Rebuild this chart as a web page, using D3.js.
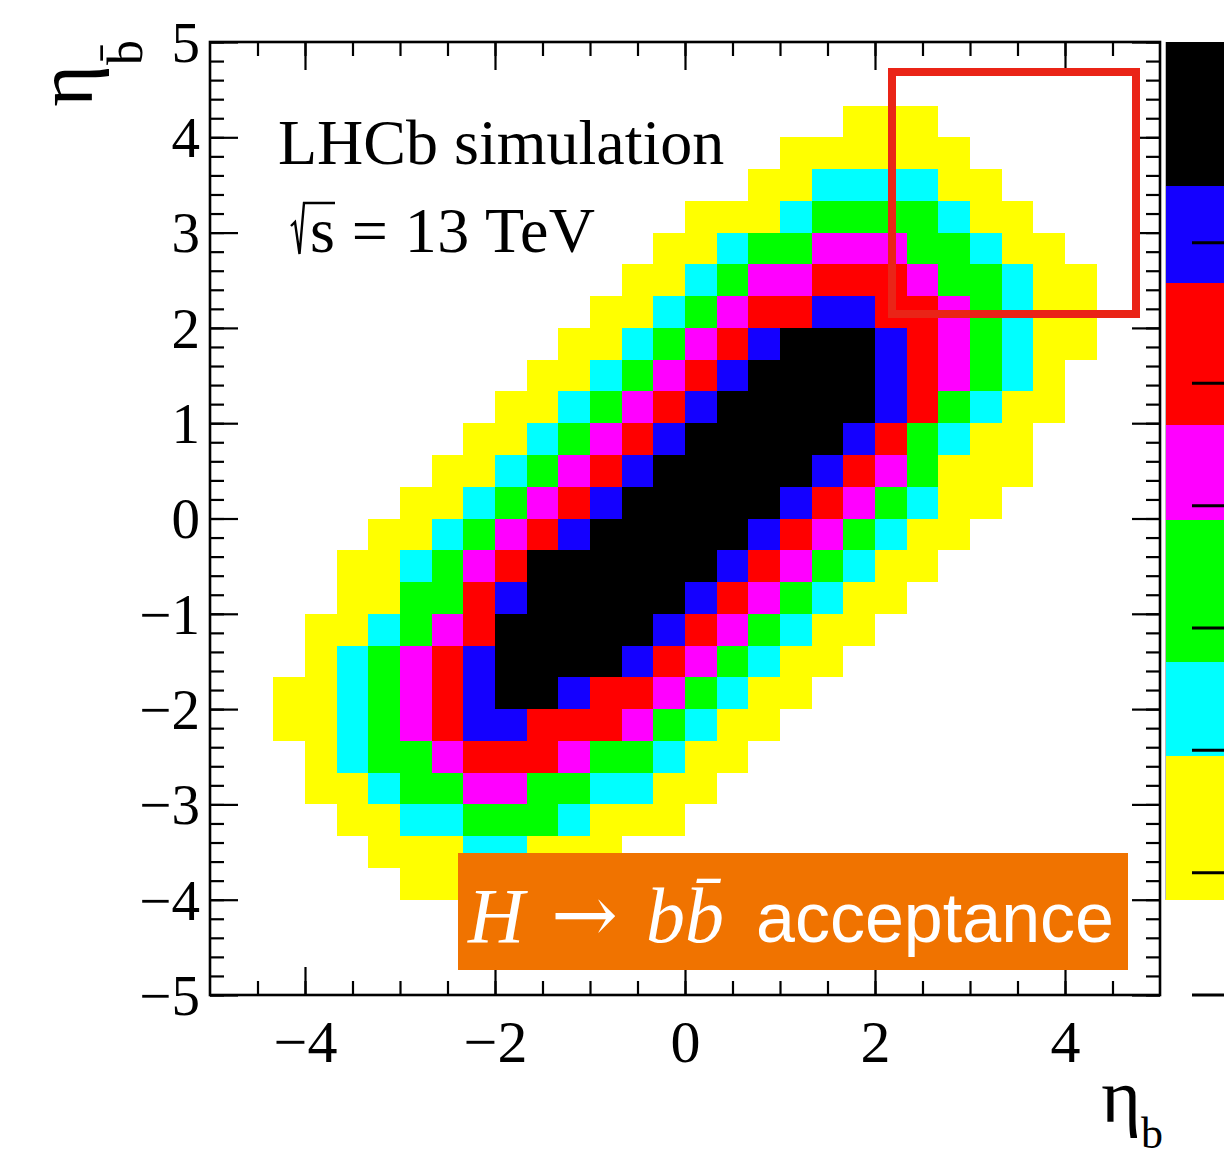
<!DOCTYPE html>
<html>
<head>
<meta charset="utf-8">
<script src="https://cdn.jsdelivr.net/npm/d3@7"></script>
<style>
  html, body { margin: 0; padding: 0; background: #ffffff; }
  svg { display: block; }
</style>
</head>
<body>
<svg id="chart" width="1224" height="1162"></svg>
<script>
// ---- data -------------------------------------------------------------
// Both axes: eta in [-5, 5], 30 bins each.
const etaDomain = [-5, 5];
const nBins = 30;

const xMajorTicks = [-4, -2, 0, 2, 4];
const yMajorTicks = [5, 4, 3, 2, 1, 0, -1, -2, -3, -4, -5];

// Contour level colours, level 1 (lowest) .. level 7 (highest).
const levelColors = ["#ffff00", "#00ffff", "#00ff00", "#ff00ff", "#ff0000", "#1400ff", "#000000"];

// Palette axis: boundaries of the seven contour bands and the tick positions.
const paletteEdges = [0.78, 1.95, 2.72, 3.88, 4.66, 5.82, 6.61, 7.79];
const paletteTicks = [0, 1, 2, 3, 4, 5, 6.15];

// Histogram content, one entry per eta_bbar bin from the top (eta_bbar = 5) down.
// rowFirstBin: index of the first filled eta_b bin; rowLevels: contour level of each filled bin.
const rowFirstBin = [null, null, 20, 18, 17, 15, 14, 13, 12, 11, 10, 9, 8, 7, 6,
                     5, 4, 4, 3, 3, 2, 2, 3, 3, 4, 5, 6, null, null, null];
const rowLevels = [
  "", "",
  "111",
  "111111",
  "11222211",
  "11123333211",
  "1123344433211",
  "112344555433211",
  "1123455665543211",
  "11234567776543211",
  "11234567777654321",
  "112345677777653211",
  "112345677777653211",
  "1123456777776543111",
  "1123456777776543211",
  "1123456777776543211",
  "1123457777776543211",
  "113356777776543211",
  "112345777776543211",
  "12345677776543211",
  "11234567765543211",
  "1123456655543211",
  "12334555433211",
  "1123344332211",
  "11223332111",
  "11122111",
  "1111",
  "", "", ""
];

// ---- layout -----------------------------------------------------------
const frame = { left: 210, right: 1160, top: 42, bottom: 995 };
const svg = d3.select("#chart");

const x = d3.scaleLinear().domain(etaDomain).range([frame.left, frame.right]);
const y = d3.scaleLinear().domain(etaDomain).range([frame.bottom, frame.top]);
const binW = (etaDomain[1] - etaDomain[0]) / nBins;

// pixel edges of bin k (0 = left / top), shared by neighbouring cells so no seams appear
const xEdge = k => Math.round(x(etaDomain[0] + k * binW));
const yEdge = k => Math.round(y(etaDomain[1] - k * binW));

// flatten into cells
const cells = [];
rowLevels.forEach((s, r) => {
  if (!s) return;
  s.split("").forEach((ch, k) => {
    const lvl = +ch;
    if (lvl <= 0) return;
    cells.push({ col: rowFirstBin[r] + k, row: r, level: lvl });
  });
});

svg.append("g").attr("class", "cells")
  .attr("shape-rendering", "crispEdges")
  .selectAll("rect").data(cells).join("rect")
  .attr("x", d => xEdge(d.col))
  .attr("y", d => yEdge(d.row))
  .attr("width", d => xEdge(d.col + 1) - xEdge(d.col))
  .attr("height", d => yEdge(d.row + 1) - yEdge(d.row))
  .attr("fill", d => levelColors[d.level - 1]);

// ---- axes (ticks inside the frame on all four sides) -------------------
const majorLen = 28, minorLen = 14;
const xMinor = d3.range(-45, 46, 5).map(v => v / 10);
const yMinor = d3.range(-25, 26, 1).map(v => v / 5);
const fmt = d => d < 0 ? "\u2212" + Math.abs(d) : String(d);

function styleAxis(g) {
  g.select(".domain").remove();
  g.selectAll(".tick line").attr("stroke", "#000").attr("stroke-width", 2.2);
}

// bottom
svg.append("g").attr("transform", `translate(0,${frame.bottom})`)
  .call(d3.axisBottom(x).tickValues(xMinor).tickSize(-minorLen).tickFormat(""))
  .call(styleAxis);
const xAxisG = svg.append("g").attr("transform", `translate(0,${frame.bottom})`)
  .call(d3.axisBottom(x).tickValues(xMajorTicks).tickSize(-majorLen).tickFormat(fmt))
  .call(styleAxis);
xAxisG.selectAll(".tick text")
  .attr("font-family", "Liberation Serif").attr("font-size", 60).attr("fill", "#000")
  .attr("dy", "0.72em").attr("y", 24);

// top
svg.append("g").attr("transform", `translate(0,${frame.top})`)
  .call(d3.axisTop(x).tickValues(xMinor).tickSize(-minorLen).tickFormat(""))
  .call(styleAxis);
svg.append("g").attr("transform", `translate(0,${frame.top})`)
  .call(d3.axisTop(x).tickValues(xMajorTicks).tickSize(-majorLen).tickFormat(""))
  .call(styleAxis);

// left
svg.append("g").attr("transform", `translate(${frame.left},0)`)
  .call(d3.axisLeft(y).tickValues(yMinor).tickSize(-minorLen).tickFormat(""))
  .call(styleAxis);
const yAxisG = svg.append("g").attr("transform", `translate(${frame.left},0)`)
  .call(d3.axisLeft(y).tickValues(yMajorTicks).tickSize(-majorLen).tickFormat(fmt))
  .call(styleAxis);
yAxisG.selectAll(".tick text")
  .attr("font-family", "Liberation Serif").attr("font-size", 57).attr("fill", "#000")
  .attr("x", -10).attr("dy", "0.34em");

// right
svg.append("g").attr("transform", `translate(${frame.right},0)`)
  .call(d3.axisRight(y).tickValues(yMinor).tickSize(-minorLen).tickFormat(""))
  .call(styleAxis);
svg.append("g").attr("transform", `translate(${frame.right},0)`)
  .call(d3.axisRight(y).tickValues(yMajorTicks).tickSize(-majorLen).tickFormat(""))
  .call(styleAxis);

// frame
svg.append("rect")
  .attr("x", frame.left).attr("y", frame.top)
  .attr("width", frame.right - frame.left).attr("height", frame.bottom - frame.top)
  .attr("fill", "none").attr("stroke", "#000").attr("stroke-width", 2.6);

// ---- palette -----------------------------------------------------------
const z = d3.scaleLinear().domain([0, paletteEdges[paletteEdges.length - 1]]).range([frame.bottom, frame.top]);
const pal = svg.append("g").attr("class", "palette");
pal.selectAll("rect").data(levelColors).join("rect")
  .attr("shape-rendering", "crispEdges")
  .attr("x", 1165).attr("width", 80)
  .attr("y", (c, i) => Math.round(z(paletteEdges[i + 1])))
  .attr("height", (c, i) => Math.round(z(paletteEdges[i])) - Math.round(z(paletteEdges[i + 1])))
  .attr("fill", c => c);
pal.append("line")
  .attr("x1", 1165.5).attr("x2", 1165.5)
  .attr("y1", z(paletteEdges[0])).attr("y2", z(paletteEdges[paletteEdges.length - 1]))
  .attr("stroke", "#bbbbbb").attr("stroke-width", 1);
pal.selectAll("line.ptick").data(paletteTicks).join("line")
  .attr("class", "ptick")
  .attr("x1", 1192).attr("x2", 1230)
  .attr("y1", d => z(d)).attr("y2", d => z(d))
  .attr("stroke", "#000").attr("stroke-width", 3);

// ---- labels ------------------------------------------------------------
svg.append("text")
  .attr("x", 278).attr("y", 164)
  .attr("font-family", "Liberation Serif").attr("font-size", 64).attr("fill", "#000")
  .text("LHCb simulation");

// sqrt(s) = 13 TeV
svg.append("path")
  .attr("d", "M291,226 L295,222 L299.5,254 L304,203 L335,203")
  .attr("fill", "none").attr("stroke", "#000").attr("stroke-width", 2.4)
  .attr("stroke-linejoin", "miter");
svg.append("text")
  .attr("x", 310).attr("y", 252)
  .attr("font-family", "Liberation Serif").attr("font-size", 64).attr("fill", "#000")
  .attr("textLength", 285).attr("lengthAdjust", "spacing")
  .text("s = 13 TeV");

// axis titles
svg.append("text")
  .attr("transform", "translate(92,40) rotate(-90)")
  .attr("text-anchor", "end")
  .attr("font-family", "Liberation Serif").attr("font-size", 80).attr("fill", "#000")
  .call(t => {
    t.append("tspan").text("\u03b7");
    t.append("tspan").attr("font-size", 50).attr("dy", 50).text("b\u0304");
  });

svg.append("text")
  .attr("x", 1163).attr("y", 1122)
  .attr("text-anchor", "end")
  .attr("font-family", "Liberation Serif").attr("font-size", 76).attr("fill", "#000")
  .call(t => {
    t.append("tspan").text("\u03b7");
    t.append("tspan").attr("font-size", 44).attr("dy", 26).text("b");
  });

// ---- annotations -------------------------------------------------------
svg.append("rect")
  .attr("x", 892).attr("y", 72).attr("width", 244).attr("height", 242)
  .attr("fill", "none").attr("stroke", "#ea2417").attr("stroke-width", 8);

svg.append("rect")
  .attr("x", 458).attr("y", 853).attr("width", 670).attr("height", 117)
  .attr("fill", "#f07300");
const ann = svg.append("text").attr("y", 942).attr("fill", "#ffffff");
ann.append("tspan").attr("x", 468)
  .attr("font-family", "Liberation Serif").attr("font-style", "italic").attr("font-size", 78)
  .text("H");
ann.append("tspan").attr("x", 551)
  .attr("font-family", "DejaVu Serif").attr("font-size", 80)
  .text("\u2192");
ann.append("tspan").attr("x", 646)
  .attr("font-family", "Liberation Serif").attr("font-style", "italic").attr("font-size", 78)
  .text("bb\u0304");
ann.append("tspan").attr("x", 756)
  .attr("font-family", "Liberation Sans").attr("font-size", 70)
  .text("acceptance");
</script>
</body>
</html>
